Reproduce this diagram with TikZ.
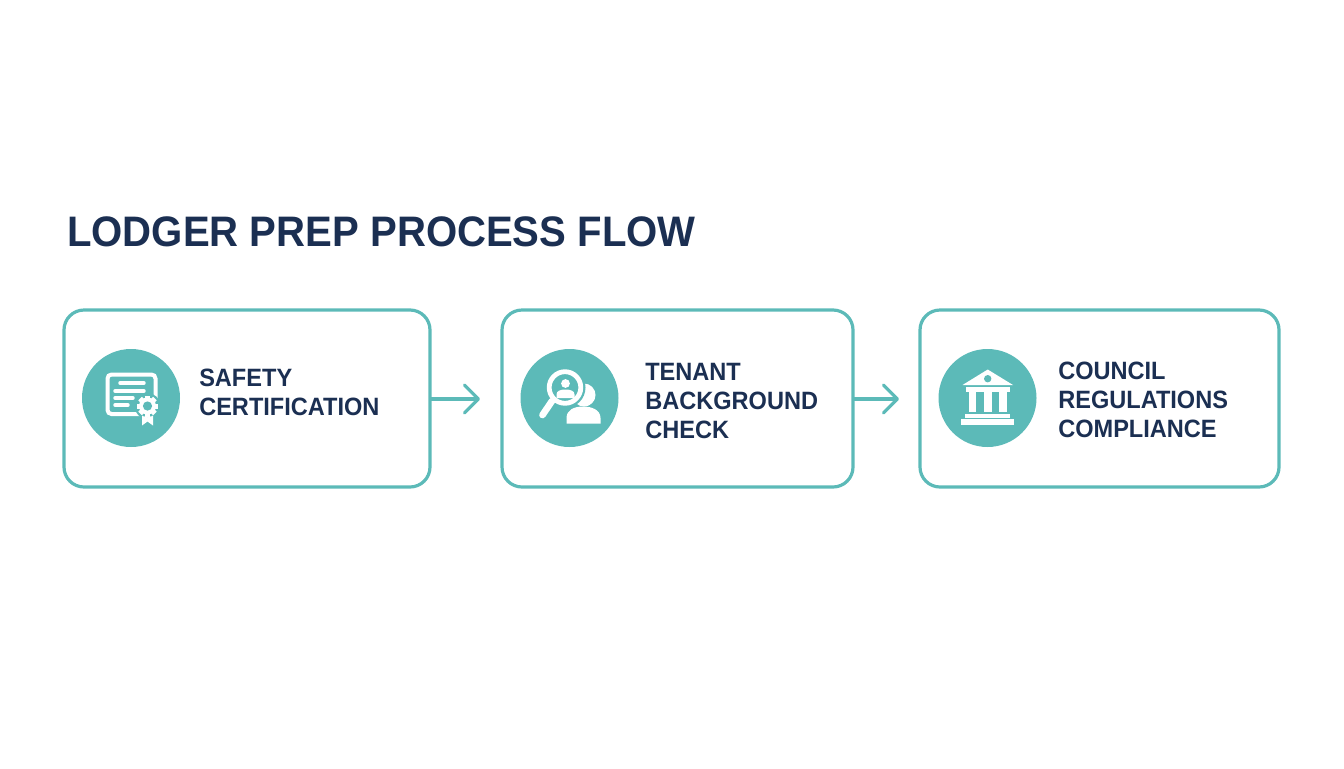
\documentclass[tikz,border=0pt]{standalone}
\usepackage{fontspec}
\setmainfont[FakeStretch=0.94]{Liberation Sans}
\usetikzlibrary{arrows.meta}
\definecolor{tealline}{HTML}{5CBAB8}
\definecolor{navytext}{HTML}{1B2F52}
\begin{document}
\begin{tikzpicture}[x=0.75pt,y=0.75pt,yscale=-1,xscale=1,
    stagebox/.style={draw=tealline,line width=2.4pt,rounded corners=15pt,inner sep=0pt,minimum height=132.75pt},
    iconcircle/.style={circle,fill=tealline,inner sep=0pt,minimum size=73.5pt},
    stagetext/.style={anchor=west,inner sep=0pt,align=left,text=navytext,font=\fontsize{18.8}{21.75}\selectfont\bfseries},
    flowarrow/.style={draw=tealline,line width=2.4pt,line cap=round,-{Straight Barb[length=10.5pt,width=21pt,round]}},
    whiteline/.style={draw=white,line width=2.6pt,line cap=round}]
    \useasboundingbox (0,0) rectangle (1344,768);

    % Title
    \draw (67,246.5) node [anchor=base west,inner sep=0pt,text=navytext,font=\fontsize{32}{38}\selectfont\bfseries] (title) {LODGER PREP PROCESS FLOW};

    % Boxes
    \draw (247,398.5) node [stagebox,minimum width=274.5pt] (certbox) {};
    \draw (677.5,398.5) node [stagebox,minimum width=263.25pt] (checkbox) {};
    \draw (1099.5,398.5) node [stagebox,minimum width=269.25pt] (councilbox) {};

    % Circles
    \draw (131,398) node [iconcircle] (certcircle) {};
    \draw (569.5,398) node [iconcircle] (checkcircle) {};
    \draw (987.5,398) node [iconcircle] (councilcircle) {};

    % Text Node
    \draw (199,392) node [stagetext] (certtext) {SAFETY\\CERTIFICATION};
    % Text Node
    \draw (645,401) node [stagetext] (checktext) {TENANT\\BACKGROUND\\CHECK};
    % Text Node
    \draw (1058,400) node [stagetext] (counciltext) {COUNCIL\\REGULATIONS\\COMPLIANCE};

    % Arrows
    \coordinate (tipa) at (480,399);
    \coordinate (tipb) at (899,399);
    \draw [flowarrow] (certbox.east |- tipa) -- (tipa);
    \draw [flowarrow] (checkbox.east |- tipb) -- (tipb);

    %Shape: certificate
    \draw [draw=white,line width=3pt,rounded corners=3pt] (107.5,374.5) rectangle (155.5,414);
    \draw [whiteline] (120,383) -- (144,383);
    \draw [whiteline] (115,391) -- (144,391);
    \draw [whiteline] (115,398) -- (133,398);
    \draw [whiteline] (115,405) -- (128,405);
    \fill [tealline] (147.5,406) circle [radius=13];
    \fill [white] (142,414) -- (153,414) -- (153,425.5) -- (147.5,421.5) -- (142,425.5) -- cycle;
    \fill [tealline] (147.5,406) circle [radius=11];
    \fill [white] (147.5,406) circle [radius=8.5];
    \foreach \gearangle in {0,45,...,315}
      \fill [white,rotate around={\gearangle:(147.5,406)}] (145,395.5) rectangle (150,400);
    \fill [tealline] (147.5,406) circle [radius=4.6];

    %Shape: person behind lens
    \fill [white] (584,395) circle [radius=11.5];
    \fill [white] (566.5,423.5) -- (566.5,418) .. controls (566.5,410) and (574,406.5) .. (583,406.5) .. controls (592,406.5) and (600.5,410) .. (600.5,418) -- (600.5,423.5) -- cycle;
    %Shape: lens
    \fill [tealline] (565,387.5) circle [radius=20.5];
    \draw [draw=white,line width=3.6pt] (565,387.5) circle [radius=15.8];
    \draw [draw=white,line width=5pt,line cap=round] (552,401) -- (542.5,415);
    \fill [white] (565.5,383.5) circle [radius=4.4];
    \fill [white] (556.5,398) -- (556.5,394.5) .. controls (556.5,391) and (560,389.5) .. (565.5,389.5) .. controls (571,389.5) and (574.5,391) .. (574.5,394.5) -- (574.5,398) -- cycle;

    %Shape: bank
    \fill [white] (987.7,369.5) -- (1013,385) -- (962.5,385) -- cycle;
    \fill [tealline] (987.7,378.7) circle [radius=3.7];
    \fill [white] (965.7,387.3) rectangle (1010,391.7);
    \fill [white] (969,392) rectangle (976,412);
    \fill [white] (984,392) rectangle (991.5,412);
    \fill [white] (999.3,392) rectangle (1006.7,412);
    \fill [white] (965,414.3) rectangle (1010,417.7);
    \fill [white] (961,419.3) rectangle (1014,424.7);
\end{tikzpicture}
\end{document}
